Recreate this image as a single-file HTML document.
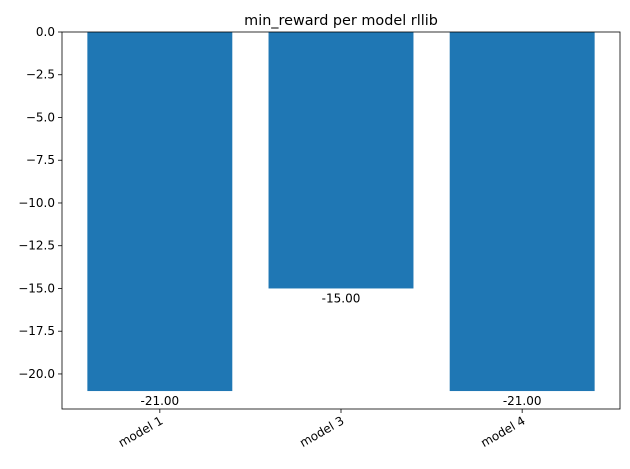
<!DOCTYPE html>
<html><head><meta charset="utf-8"><style>body{margin:0;background:#fff}svg{display:block;font-family:"DejaVu Sans","Liberation Sans",sans-serif}</style></head>
<body>
<svg id="c" width="630" height="469"></svg>
<script>
const categories = ["model 1","model 3","model 4"];
const values = [-21, -15, -21];
const yTicks = [0,-2.5,-5,-7.5,-10,-12.5,-15,-17.5,-20];
const yTickLabels = ["0.0","\u22122.5","\u22125.0","\u22127.5","\u221210.0","\u221212.5","\u221215.0","\u221217.5","\u221220.0"];
const svg = document.getElementById('c');
const NS = 'http://www.w3.org/2000/svg';
const L=62,R=620,T=32,B=409;
const ymin=Math.min(0,...values)*1.05, ymax=0;
const y=v=>T+(ymax-v)/(ymax-ymin)*(B-T);
const xlo=-0.54, xhi=categories.length-1+0.54;
const x=i=>L+(i-xlo)/(xhi-xlo)*(R-L);
const bw=0.8*(R-L)/(xhi-xlo);
function mk(tag,attrs,text){const e=document.createElementNS(NS,tag);for(const k in attrs)e.setAttribute(k,attrs[k]);if(text!==undefined)e.textContent=text;svg.appendChild(e);return e;}
values.forEach((v,i)=>{
  const r=mk('rect',{x:x(i)-bw/2,y:y(0),width:bw,height:y(v)-y(0),fill:'#1f77b4'});
  
  
  const t=mk('text',{x:x(i),y:y(v)+14,'text-anchor':'middle','font-size':12,fill:'#000'},v.toFixed(2));
  
  
  mk('line',{x1:x(i),x2:x(i),y1:B,y2:B+4,stroke:'#000','stroke-width':0.8});
  const xt=mk('text',{transform:`translate(${x(i)+4},${B+14}) rotate(-30)`,'text-anchor':'end','font-size':12,fill:'#000'},categories[i]);
  
  
});
yTicks.forEach((v,i)=>{
  mk('line',{x1:L-4,x2:L,y1:y(v),y2:y(v),stroke:'#000','stroke-width':0.8});
  const t=mk('text',{x:L-7,y:y(v)+4,'text-anchor':'end','font-size':12,fill:'#000'},yTickLabels[i]);
  
  
});
const fr=mk('rect',{x:L,y:T,width:R-L,height:B-T,fill:'none',stroke:'#000','stroke-width':0.8});


const ti=mk('text',{x:(L+R)/2,y:T-7,'text-anchor':'middle','font-size':14.4,fill:'#000'},'min_reward per model rllib');


</script>
</body></html>
